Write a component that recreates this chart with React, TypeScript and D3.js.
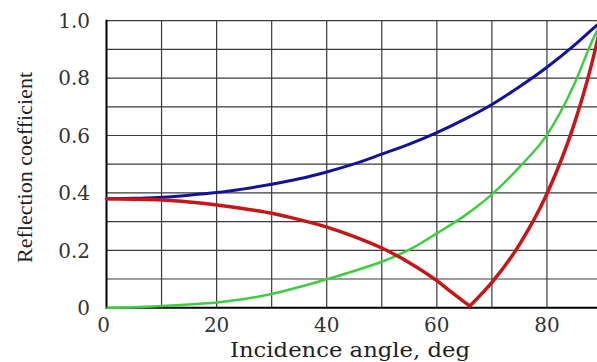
import React from "react";
import * as d3 from "d3";

const xTicks = [0, 20, 40, 60, 80];
const yTicks = [0, 0.2, 0.4, 0.6, 0.8, 1.0];
const xGrid = [10, 20, 30, 40, 50, 60, 70, 80, 90];
const yGrid = [0.1, 0.2, 0.3, 0.4, 0.5, 0.6, 0.7, 0.8, 0.9, 1.0];

const blueAngles = [0, 5, 10, 15, 20, 25, 30, 35, 40, 45, 50, 55, 60, 65, 70, 75, 80, 85, 88, 90];
const blueValues = [0.38, 0.381, 0.385, 0.392, 0.401, 0.414, 0.43, 0.449, 0.473, 0.501, 0.535, 0.57, 0.61, 0.656, 0.708, 0.77, 0.838, 0.915, 0.966, 1.0];

const redLeftAngles = [0, 5, 10, 15, 20, 25, 30, 35, 40, 45, 50, 55, 60, 62, 64, 66];
const redLeftValues = [0.38, 0.378, 0.375, 0.368, 0.358, 0.345, 0.329, 0.307, 0.281, 0.248, 0.208, 0.157, 0.094, 0.064, 0.034, 0.006];
const redRightAngles = [66, 70, 75, 80, 85, 88, 90];
const redRightValues = [0.006, 0.088, 0.22, 0.397, 0.643, 0.84, 1.0];

const greenAngles = [0, 5, 10, 15, 20, 25, 30, 35, 40, 45, 50, 55, 60, 65, 70, 75, 80, 85, 88, 90];
const greenValues = [0, 0.002, 0.006, 0.011, 0.018, 0.03, 0.048, 0.072, 0.099, 0.128, 0.16, 0.202, 0.259, 0.32, 0.395, 0.49, 0.602, 0.78, 0.92, 1.0];

const W = 597;
const H = 362;

export default function App() {
  const x = d3.scaleLinear().domain([0, 90]).range([106.5, 602]);
  const y = d3.scaleLinear().domain([0, 1]).range([307.7, 20.7]);
  const line = d3
    .line<[number, number]>()
    .x((d) => x(d[0]))
    .y((d) => y(d[1]))
    .curve(d3.curveMonotoneX);
  const zip = (a: number[], b: number[]) => a.map((v, i) => [v, b[i]] as [number, number]);

  const tickFont = "'DejaVu Serif', serif";
  return (
    <svg
      width={W}
      height={H}
      style={{ position: "absolute", left: 0, top: 0, display: "block", background: "#fff" }}
    >
      {/* grid */}
      {xGrid.map((g) => (
        <line key={"vx" + g} x1={x(g)} x2={x(g)} y1={y(1)} y2={y(0)} stroke="#3a3a3a" strokeWidth={1.2} />
      ))}
      {yGrid.map((g) => (
        <line key={"hy" + g} x1={x(0)} x2={W} y1={y(g)} y2={y(g)} stroke="#3a3a3a" strokeWidth={1.2} />
      ))}
      {/* axes */}
      <line x1={x(0)} x2={x(0)} y1={y(1) - 1} y2={y(0) + 1} stroke="#000" strokeWidth={2} />
      <line x1={x(0)} x2={W} y1={y(0)} y2={y(0)} stroke="#000" strokeWidth={2} />

      {/* curves */}
      <path d={line(zip(blueAngles, blueValues)) || ""} fill="none" stroke="#12129c" strokeWidth={3} />
      <path d={line(zip(greenAngles, greenValues)) || ""} fill="none" stroke="#40cc40" strokeWidth={2.5} />
      <path d={line(zip(redLeftAngles, redLeftValues)) || ""} fill="none" stroke="#c41818" strokeWidth={3.5} strokeLinecap="round" />
      <path d={line(zip(redRightAngles, redRightValues)) || ""} fill="none" stroke="#c41818" strokeWidth={3.5} strokeLinecap="round" />

      {/* y tick labels */}
      {yTicks.map((t) => (
        <text
          key={"yt" + t}
          x={90}
          y={y(t)}
          dy="0.36em"
          textAnchor="end"
          fontFamily={tickFont}
          fontSize={20}
          fill="#333"
        >
          {t === 0 ? "0" : t.toFixed(1)}
        </text>
      ))}
      {/* x tick labels */}
      {xTicks.map((t) => (
        <text
          key={"xt" + t}
          x={t === 0 ? 103.5 : x(t)}
          y={325}
          dy="0.36em"
          textAnchor="middle"
          fontFamily={tickFont}
          fontSize={20}
          fill="#333"
        >
          {t}
        </text>
      ))}
      {/* axis titles */}
      <text
        x={350}
        y={357}
        textAnchor="middle"
        fontFamily={tickFont}
        fontSize={20}
        textLength={240}
        lengthAdjust="spacingAndGlyphs"
        fill="#222"
      >
        Incidence angle, deg
      </text>
      <text
        transform={`translate(32,167.5) rotate(-90)`}
        textAnchor="middle"
        fontFamily="'Liberation Serif', serif"
        fontSize={22}
        textLength={191}
        lengthAdjust="spacingAndGlyphs"
        fill="#222"
      >
        Reflection coefficient
      </text>
    </svg>
  );
}
